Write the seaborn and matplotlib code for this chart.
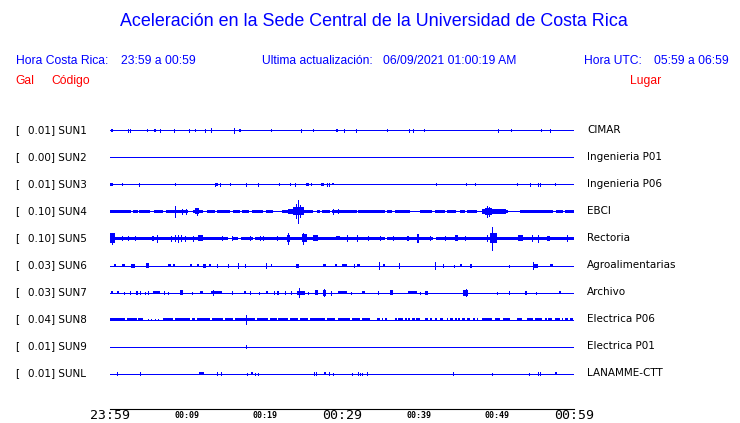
import numpy as np
import pandas as pd
import seaborn as sns
import matplotlib.pyplot as plt

sns.set_style("white")
plt.rcParams['font.family'] = ['DejaVu Sans']
plt.rcParams['text.color'] = 'black'
plt.rcParams['axes.edgecolor'] = 'black'

BLUE = '#0000ff'
RED = '#ff0000'

# station info
codes = ['SUN1', 'SUN2', 'SUN3', 'SUN4', 'SUN5', 'SUN6', 'SUN7', 'SUN8', 'SUN9', 'SUNL']
places = ['CIMAR', 'Ingenieria P01', 'Ingenieria P06', 'EBCI', 'Rectoria', 'Agroalimentarias',
          'Archivo', 'Electrica P06', 'Electrica P01', 'LANAMME-CTT']
peak_gal = [0.01, 0.00, 0.01, 0.10, 0.10, 0.03, 0.03, 0.04, 0.01, 0.01]

# time axis (minutes after 23:59)
tick_minutes = [0, 5, 10, 15, 20, 25, 30, 35, 40, 45, 50, 55, 60]
tick_labels = ['23:59', '', '00:09', '', '00:19', '', '00:29', '', '00:39', '', '00:49', '', '00:59']
big_ticks = ['23:59', '00:29', '00:59']

# events per trace: time (min), half amplitude, duration (min, 0 = single spike)
sun1_t = [0.22, 2.37, 2.62, 4.82, 5.82, 6.50, 8.31, 10.25, 11.03, 12.32, 13.10, 16.07, 16.81, 20.86,
          24.73, 26.29, 29.35, 30.29, 31.85, 35.85, 38.70, 39.22, 40.64, 50.21, 51.89, 55.77, 56.93]
sun1_a = [1.5, 1.7, 1.7, 1.0, 1.5, 1.7, 1.5, 1.5, 1.0, 1.5, 2.0, 2.3, 1.5, 1.0,
          1.5, 1.0, 1.5, 1.5, 1.5, 1.0, 1.7, 1.7, 1.0, 1.5, 1.0, 1.0, 1.5]
sun1_d = [0.3, 0, 0, 0, 0.3, 0, 0, 0, 0, 0, 0, 0, 0.26, 0,
          0, 0, 0.26, 0, 0, 0, 0, 0, 0, 0, 0, 0, 0]

sun2_t, sun2_a, sun2_d = [], [], []

sun3_t = [0.2, 1.59, 3.79, 8.44, 13.62, 13.87, 14.22, 15.56, 17.62, 19.18, 21.89, 23.31, 23.96, 25.51,
          25.95, 27.5, 28.06, 28.28, 28.83, 42.19, 46.07, 47.23, 52.66, 54.35, 55.30, 55.60, 57.63]
sun3_a = [1.5, 1.0, 1.5, 1.0, 1.5, 1.5, 1.5, 1.0, 1.5, 1.5, 1.0, 1.0, 1.5, 1.5,
          1.0, 1.5, 1.5, 1.5, 1.0, 1.0, 1.0, 1.0, 1.0, 1.5, 1.5, 1.5, 1.5]
sun3_d = [0.3, 0, 0, 0, 0, 0.26, 0, 0, 0, 0, 0, 0, 0, 0.35,
          0, 0.4, 0, 0, 0.3, 0, 0, 0, 0, 0, 0, 0, 0.2]

sun4_t = [8.44, 9.31, 9.83, 11.21, 11.21, 23.34, 24.37, 24.05, 24.35, 24.57, 28.9, 29.5,
          49.67, 48.9, 48.75, 49.0]
sun4_a = [5.5, 2.5, 2.5, 3.0, 3.5, 2.5, 4.0, 7.0, 11.5, 6.0, 2.5, 2.0,
          2.2, 3.5, 5.3, 4.5]
sun4_d = [0, 0, 0, 0.5, 0, 0.65, 1.4, 0, 0, 0, 0, 0,
          3.2, 0.9, 0, 0]

sun5_t = [0.3, 0.2, 1.51, 2.37, 3.23, 5.39, 5.60, 6.12, 7.89, 8.40, 8.79, 9.18, 9.70, 10.77,
          11.7, 14.48, 15.74, 18.10, 19.40, 19.82, 21.56, 23.06, 23.08, 25.1, 25.02, 26.6,
          29.5, 30.61, 32.0, 33.40, 34.91, 36.63, 38.57, 39.87, 41.38, 43.32, 44.8, 45.91,
          48.71, 49.57, 49.36, 53.1, 54.53, 55.38, 56.7, 59.06]
sun5_a = [5.0, 5.7, 2.0, 2.0, 2.0, 2.0, 2.0, 3.5, 2.5, 3.0, 3.5, 3.0, 2.5, 2.5,
          3.0, 2.0, 2.0, 2.0, 2.0, 2.0, 2.0, 3.5, 5.5, 4.0, 5.7, 3.0,
          2.0, 3.0, 3.5, 2.0, 2.0, 2.0, 2.5, 4.5, 2.0, 2.0, 3.0, 2.0,
          3.0, 5.0, 11.5, 3.0, 3.0, 3.5, 2.5, 3.0]
sun5_d = [0.6, 0, 0, 0, 0, 0, 0, 0, 0, 0, 0, 0, 0, 0,
          0.65, 0, 0, 0, 0, 0, 0, 0.45, 0, 0.65, 0, 0.65,
          0.45, 0, 0.2, 0, 0, 0, 0.3, 0.3, 0, 0, 0.4, 0,
          0, 0.85, 0, 0.65, 0, 0, 0.4, 0]

sun6_t = [0.65, 1.72, 2.72, 3.10, 4.88, 7.67, 8.28, 10.49, 11.38, 12.28, 12.93, 13.80, 15.30, 16.51,
          17.46, 20.21, 20.91, 24.22, 27.71, 29.19, 30.32, 31.51, 32.11, 34.75, 35.43, 37.33,
          41.98, 43.10, 44.52, 45.39, 46.66, 51.63, 55.05, 54.73, 57.06]
sun6_a = [1.5, 1.5, 1.5, 2.0, 2.5, 1.5, 1.5, 1.5, 1.5, 2.0, 1.5, 1.5, 1.5, 2.5,
          1.5, 2.5, 1.5, 2.0, 1.5, 1.5, 1.5, 1.5, 1.5, 3.5, 1.5, 2.5,
          3.5, 1.5, 1.0, 1.5, 2.0, 1.0, 2.0, 3.5, 1.5]
sun6_d = [0.26, 0.39, 0, 0.39, 0.39, 0.39, 0.26, 0.3, 0.2, 0.39, 0.2, 0, 0, 0,
          0, 0, 0.2, 0.39, 0.39, 0.2, 0.57, 0, 0.39, 0, 0.26, 0,
          0, 0, 0, 0.26, 0.3, 0, 0.65, 0, 0.39]

sun7_t = [0.28, 1.07, 1.81, 2.59, 3.51, 3.88, 4.53, 4.95, 6.0, 7.02, 7.54, 9.27, 10.56, 11.85,
          13.75, 13.36, 15.74, 17.46, 18.10, 19.27, 20.32, 21.24, 21.76, 22.63, 23.40, 24.68,
          24.48, 25.64, 26.72, 27.7, 27.67, 28.58, 30.07, 31.2, 32.76, 34.69, 36.42, 39.1,
          40.08, 40.95, 46.0, 45.97, 50.08, 51.63, 53.81, 55.12, 58.19]
sun7_a = [1.5, 1.5, 1.0, 1.5, 2.0, 1.5, 1.0, 1.5, 1.5, 1.5, 1.0, 2.5, 1.0, 1.5,
          1.5, 2.5, 1.5, 1.5, 1.5, 1.0, 1.5, 1.5, 2.0, 1.5, 1.5, 2.0,
          4.3, 1.0, 2.5, 3.0, 3.5, 2.0, 1.5, 1.0, 1.5, 1.5, 2.5, 1.5,
          1.0, 2.0, 3.0, 3.7, 1.0, 1.5, 2.0, 1.0, 1.5]
sun7_d = [0.3, 0.26, 0, 0, 0.3, 0, 0, 0, 0.95, 0, 0, 0.43, 0, 0.43,
          1.38, 0, 0, 0.2, 0, 0, 0.3, 0, 0.3, 0, 0, 1.07,
          0, 0, 0.43, 0.4, 0, 0, 1.09, 0, 0.43, 0, 0.43, 1.09,
          0, 0.43, 0.65, 0, 0, 0, 0.3, 0, 0.26]

sun8_t = [4.95, 5.39, 5.82, 6.25, 17.62]
sun8_a = [1.0, 1.0, 1.0, 1.0, 4.3]
sun8_d = [0.13, 0.13, 0.13, 0.13, 0]

sun9_t = [17.62]
sun9_a = [1.2]
sun9_d = [0]

sunl_t = [0.94, 3.84, 11.87, 13.87, 14.39, 17.68, 18.3, 18.71, 19.18, 26.38, 26.64, 27.8, 28.36,
          28.83, 31.25, 32.03, 32.33, 32.55, 33.19, 44.35, 49.43, 54.22, 55.30, 55.56, 57.71]
sunl_a = [1.5, 1.5, 1.5, 1.5, 1.5, 1.0, 1.5, 1.0, 1.0, 1.5, 1.5, 1.5, 1.5,
          1.0, 1.0, 1.5, 1.0, 1.0, 1.5, 1.5, 1.0, 1.0, 1.5, 1.5, 1.5]
sunl_d = [0, 0, 0.65, 0, 0, 0, 0.26, 0, 0, 0, 0, 0.3, 0,
          0, 0, 0, 0, 0, 0, 0, 0, 0, 0, 0, 0.26]

# continuous noise band segments (start, end in min) and its half amplitude
sun4_band_s = [0, 2.94, 3.79, 5.69, 7.24, 10.77, 12.50, 13.87, 15.94, 17.03, 18.32, 20.13, 22.20, 26.72,
               27.41, 28.71, 32.11, 35.86, 36.85, 40.1, 42.0, 43.6, 45.3, 46.2, 48.06, 53.0, 57.7, 58.8]
sun4_band_e = [2.72, 3.58, 5.17, 6.81, 10.12, 12.07, 13.58, 15.52, 16.81, 17.97, 19.83, 21.12, 26.29, 27.15,
               28.45, 31.90, 35.56, 36.42, 38.8, 41.6, 43.3, 44.8, 45.9, 47.4, 51.5, 57.3, 58.6, 60]
sun4_band = 1.6

sun5_band_s = [0, 15.8, 17.0, 18.8, 35.86, 42.15]
sun5_band_e = [15.2, 16.6, 18.5, 35.56, 41.8, 60]
sun5_band = 1.8

sun8_band_s = [0, 2.15, 3.66, 6.89, 8.41, 10.56, 11.21, 13.15, 14.87, 16.16, 18.97, 20.69, 21.76, 23.27,
               24.57, 25.86, 28.02, 29.52, 31.25, 32.54, 34.48, 35.13, 35.56, 36.85, 37.28, 38.14,
               38.57, 39.01, 39.57, 40.73, 41.38, 42.02, 42.67, 43.53, 43.96, 44.61, 45.04, 45.47,
               46.12, 46.98, 47.41, 48.06, 49.78, 50.85, 52.59, 53.88, 54.95, 56.25, 56.68, 57.54,
               58.40, 58.83, 59.48]
sun8_band_e = [1.94, 3.45, 4.31, 8.19, 10.34, 10.99, 12.93, 14.66, 15.94, 18.75, 20.47, 21.55, 23.06, 24.35,
               25.64, 27.8, 29.09, 31.03, 32.33, 33.62, 34.91, 35.34, 35.77, 37.07, 37.93, 38.36,
               38.79, 39.44, 40.08, 41.16, 41.60, 42.24, 43.10, 43.74, 44.39, 44.83, 45.26, 45.90,
               46.55, 47.19, 47.62, 49.35, 50.43, 51.72, 53.23, 54.73, 55.82, 56.46, 57.11, 58.19,
               58.61, 59.26, 59.91]
sun8_band = 1.5

events = [(sun1_t, sun1_a, sun1_d), (sun2_t, sun2_a, sun2_d), (sun3_t, sun3_a, sun3_d),
          (sun4_t, sun4_a, sun4_d), (sun5_t, sun5_a, sun5_d), (sun6_t, sun6_a, sun6_d),
          (sun7_t, sun7_a, sun7_d), (sun8_t, sun8_a, sun8_d), (sun9_t, sun9_a, sun9_d),
          (sunl_t, sunl_a, sunl_d)]
bands = {3: (sun4_band_s, sun4_band_e, sun4_band),
         4: (sun5_band_s, sun5_band_e, sun5_band),
         7: (sun8_band_s, sun8_band_e, sun8_band)}

W, H = 740, 423
row_gap = 27


def px(x, y):
    return x / W, 1 - y / H


fig = plt.figure(figsize=(W / 100, H / 100), dpi=100)
ax = fig.add_axes([110 / W, 14 / H, 464 / W, 291 / H])
ax.set_xlim(0, 60)
# half-pixel offset so 1px trace lines sit exactly on a pixel row
ax.set_ylim(278.5, -12.5)

for i, (tt, aa, dd) in enumerate(events):
    y0 = i * row_gap
    ax.hlines(y0, 0, 60, color=BLUE, lw=0.72, antialiased=False)
    if i in bands:
        bs, be, amp = bands[i]
        df = pd.DataFrame({'s': bs, 'e': be})
        ax.bar(df['s'], 2 * amp, width=df['e'] - df['s'], bottom=y0 - amp, align='edge',
               color=BLUE, linewidth=0, antialiased=False)
    ev = pd.DataFrame({'t': tt, 'a': aa, 'd': dd})
    blocks = ev[ev['d'] > 0]
    spikes = ev[ev['d'] == 0]
    if len(blocks):
        ax.bar(blocks['t'], 2 * blocks['a'], width=blocks['d'], bottom=y0 - blocks['a'],
               color=BLUE, linewidth=0, antialiased=False)
    if len(spikes):
        ax.vlines(spikes['t'], y0 - spikes['a'], y0 + spikes['a'], color=BLUE, lw=0.72,
                  antialiased=False)

    # left and right labels
    yy = 130 + i * row_gap
    fig.text(*px(15, yy), '[', fontsize=7.5, va='center', ha='left')
    fig.text(*px(27.7, yy), f'{peak_gal[i]:.2f}] {codes[i]}', fontsize=7.5, va='center', ha='left')
    fig.text(*px(587, yy), places[i], fontsize=7.5, va='center', ha='left')

# time axis
sns.despine(ax=ax, left=True, top=True, right=True)
ax.spines['bottom'].set_color('black')
ax.spines['bottom'].set_linewidth(0.8)
ax.set_yticks([])
ax.set_xticks(tick_minutes)
ax.set_xticklabels(tick_labels)
ax.tick_params(axis='x', direction='in', length=6.5, width=0.8, color='black', labelcolor='black', pad=5)
for lab in ax.get_xticklabels():
    lab.set_family('DejaVu Sans Mono')
    lab.set_va('center')
    if lab.get_text() in big_ticks:
        lab.set_fontsize(9.5)
    else:
        lab.set_fontsize(6)
        lab.set_weight('bold')

# header
hfont = ['Liberation Sans', 'DejaVu Sans']
fig.text(*px(374, 22), 'Aceleración en la Sede Central de la Universidad de Costa Rica',
         color=BLUE, fontsize=12.9, family=hfont, ha='center', va='center')
head = [(15.5, 'Hora Costa Rica:'), (121, '23:59 a 00:59'), (262, 'Ultima actualización:'),
        (383, '06/09/2021 01:00:19 AM'), (583.5, 'Hora UTC:'), (653.5, '05:59 a 06:59')]
for x, s in head:
    fig.text(*px(x, 61), s, color=BLUE, fontsize=8.7, family=hfont, ha='left', va='center')
for x, s in [(15.5, 'Gal'), (51, 'Código'), (630, 'Lugar')]:
    fig.text(*px(x, 81), s, color=RED, fontsize=8.7, family=hfont, ha='left', va='center')

fig.savefig('out.png', dpi=100)
